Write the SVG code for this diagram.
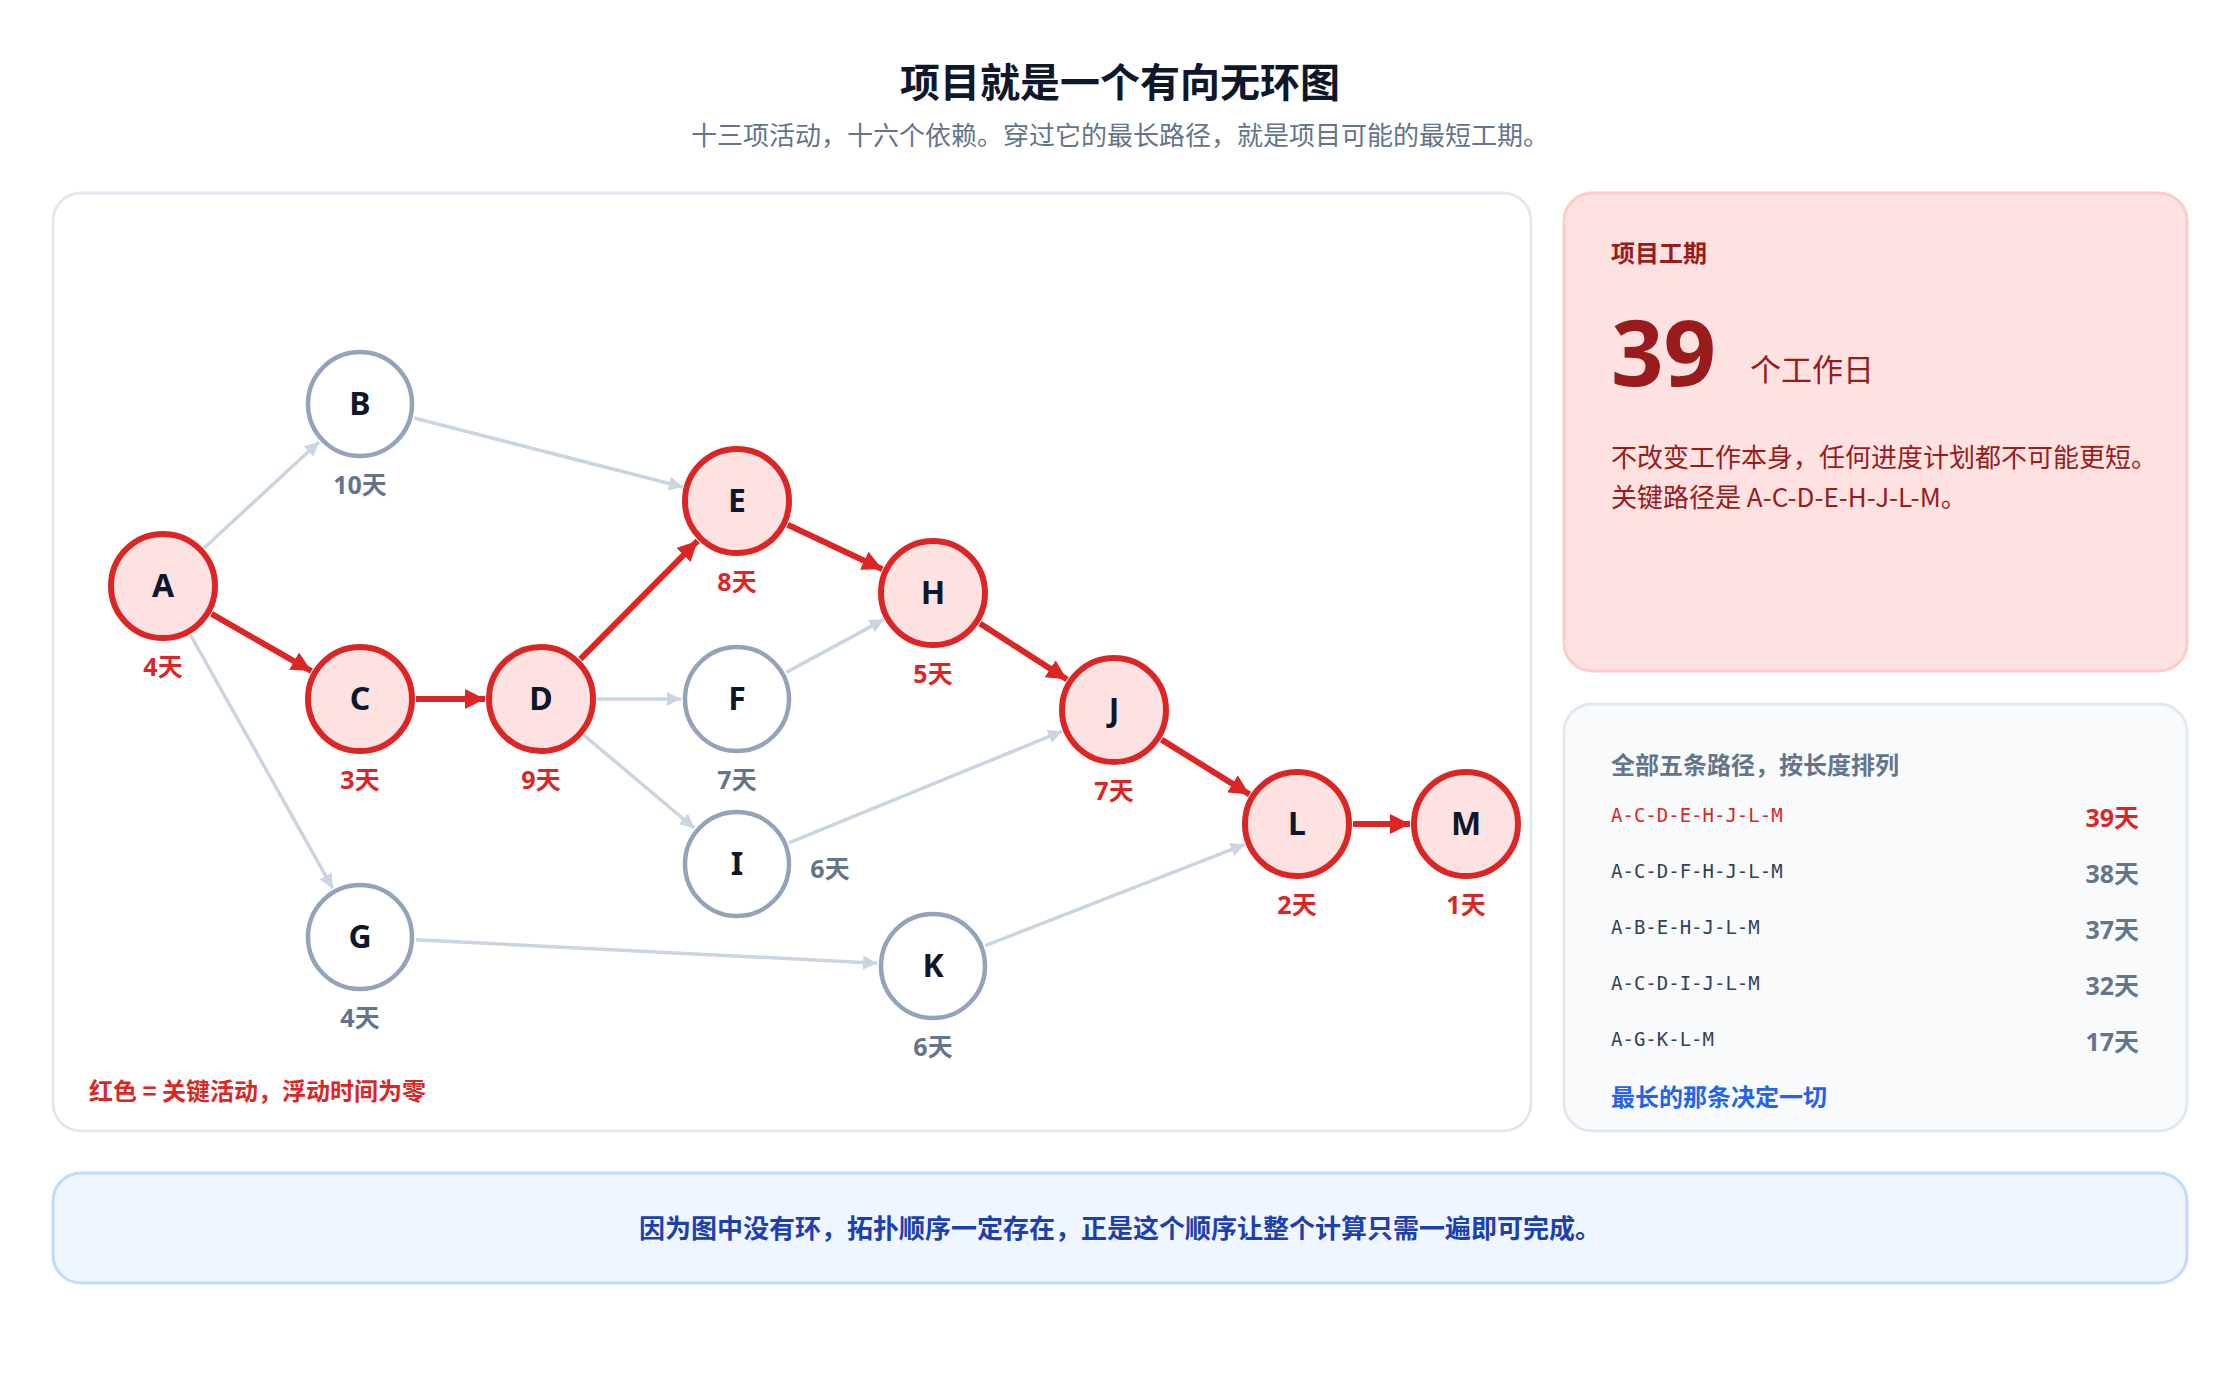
<svg xmlns="http://www.w3.org/2000/svg" width="2240" height="1400" viewBox="0 0 2240 1400">
<style>
text{font-family:"Noto Sans","Noto Sans CJK SC",sans-serif}
.cjk{font-family:"Noto Sans CJK SC","Noto Sans",sans-serif}
.g{stroke:#cbd5e1;stroke-width:3.5;fill:none}
.r{stroke:#dc2626;stroke-width:6;fill:none}
.nc{fill:#fee2e2;stroke:#dc2626;stroke-width:6}
.nn{fill:#ffffff;stroke:#94a3b8;stroke-width:4.5}
.nl{font-size:32px;font-weight:700;fill:#0f172a;text-anchor:middle}
.dc{font-size:25px;font-weight:700;fill:#dc2626;text-anchor:middle}
.dn{font-size:25px;font-weight:700;fill:#64748b;text-anchor:middle}
.mono{font-family:"DejaVu Sans Mono","Liberation Mono",monospace;font-size:19px;fill:#334155}
.days{font-size:25px;font-weight:700;fill:#64748b;text-anchor:end}
</style>
<defs>
<marker id="ag" viewBox="0 0 10 10" refX="10" refY="5" markerWidth="14" markerHeight="14" markerUnits="userSpaceOnUse" orient="auto"><path d="M0,0L10,5L0,10z" fill="#cbd5e1"/></marker>
<marker id="ar" viewBox="0 0 10 10" refX="10" refY="5" markerWidth="20" markerHeight="20" markerUnits="userSpaceOnUse" orient="auto"><path d="M0,0L10,5L0,10z" fill="#dc2626"/></marker>
</defs>
<rect width="2240" height="1400" fill="#ffffff"/>
<text x="1120" y="97" class="cjk" font-size="40" font-weight="700" fill="#0f172a" text-anchor="middle">项目就是一个有向无环图</text>
<text x="1120" y="145" class="cjk" font-size="26" fill="#64748b" text-anchor="middle">十三项活动，十六个依赖。穿过它的最长路径，就是项目可能的最短工期。</text>
<rect x="53" y="193" width="1478" height="938" rx="28" fill="#ffffff" stroke="#e2e8f0" stroke-width="3"/>
<rect x="1564" y="193" width="623" height="478" rx="28" fill="#fee2e2" stroke="#fecaca" stroke-width="3"/>
<rect x="1564" y="704" width="623" height="427" rx="28" fill="#f8fafc" stroke="#e2e8f0" stroke-width="3"/>
<rect x="53" y="1173" width="2134" height="110" rx="28" fill="#eff6ff" stroke="#bfdbfe" stroke-width="3"/>
<text x="1120" y="1238" class="cjk" font-size="26" font-weight="700" fill="#1e40af" text-anchor="middle">因为图中没有环，拓扑顺序一定存在，正是这个顺序让整个计算只需一遍即可完成。</text>
<g id="connectors">
<path class="g" marker-end="url(#ag)" d="M204.1,548L318.9,442"/>
<path class="r" marker-end="url(#ar)" d="M211.6,613.9L311.4,671.1"/>
<path class="g" marker-end="url(#ag)" d="M190.4,634.8L332.6,888.2"/>
<path class="g" marker-end="url(#ag)" d="M414.2,418L682.8,487"/>
<path class="r" marker-end="url(#ar)" d="M416,699L485,699"/>
<path class="r" marker-end="url(#ar)" d="M580.4,659.2L697.6,540.8"/>
<path class="g" marker-end="url(#ag)" d="M597,699L681,699"/>
<path class="g" marker-end="url(#ag)" d="M583.8,735.1L694.2,828"/>
<path class="r" marker-end="url(#ar)" d="M787.7,524.8L882.3,569.2"/>
<path class="g" marker-end="url(#ag)" d="M786.3,672.4L883.7,619.6"/>
<path class="r" marker-end="url(#ar)" d="M980,623.4L1067,679.6"/>
<path class="g" marker-end="url(#ag)" d="M788.8,842.8L1062.2,731.2"/>
<path class="r" marker-end="url(#ar)" d="M1161.5,739.6L1249.5,794.4"/>
<path class="g" marker-end="url(#ag)" d="M415.9,939.8L877.1,963.2"/>
<path class="g" marker-end="url(#ag)" d="M985.2,945.6L1244.8,844.4"/>
<path class="r" marker-end="url(#ar)" d="M1353,824L1410,824"/>
</g>
<g id="A"><circle cx="163" cy="586" r="52" class="nc"/><text x="163" y="597" class="nl">A</text><text x="163" y="676" class="dc">4天</text></g>
<g id="B"><circle cx="360" cy="404" r="52" class="nn"/><text x="360" y="415" class="nl">B</text><text x="360" y="494" class="dn">10天</text></g>
<g id="C"><circle cx="360" cy="699" r="52" class="nc"/><text x="360" y="710" class="nl">C</text><text x="360" y="789" class="dc">3天</text></g>
<g id="D"><circle cx="541" cy="699" r="52" class="nc"/><text x="541" y="710" class="nl">D</text><text x="541" y="789" class="dc">9天</text></g>
<g id="E"><circle cx="737" cy="501" r="52" class="nc"/><text x="737" y="512" class="nl">E</text><text x="737" y="591" class="dc">8天</text></g>
<g id="F"><circle cx="737" cy="699" r="52" class="nn"/><text x="737" y="710" class="nl">F</text><text x="737" y="789" class="dn">7天</text></g>
<g id="H"><circle cx="933" cy="593" r="52" class="nc"/><text x="933" y="604" class="nl">H</text><text x="933" y="683" class="dc">5天</text></g>
<g id="I"><circle cx="737" cy="864" r="52" class="nn"/><text x="737" y="875" class="nl">I</text><text x="830" y="878" class="dn">6天</text></g>
<g id="G"><circle cx="360" cy="937" r="52" class="nn"/><text x="360" y="948" class="nl">G</text><text x="360" y="1027" class="dn">4天</text></g>
<g id="K"><circle cx="933" cy="966" r="52" class="nn"/><text x="933" y="977" class="nl">K</text><text x="933" y="1056" class="dn">6天</text></g>
<g id="J"><circle cx="1114" cy="710" r="52" class="nc"/><text x="1114" y="721" class="nl">J</text><text x="1114" y="800" class="dc">7天</text></g>
<g id="L"><circle cx="1297" cy="824" r="52" class="nc"/><text x="1297" y="835" class="nl">L</text><text x="1297" y="914" class="dc">2天</text></g>
<g id="M"><circle cx="1466" cy="824" r="52" class="nc"/><text x="1466" y="835" class="nl">M</text><text x="1466" y="914" class="dc">1天</text></g>
<text x="89" y="1100" class="cjk" font-size="24" font-weight="700" fill="#dc2626">红色 = 关键活动，浮动时间为零</text>
<g id="summary">
<text x="1611" y="262" class="cjk" font-size="24" font-weight="700" fill="#991b1b">项目工期</text>
<text x="1611" y="386" font-size="92" font-weight="700" fill="#991b1b">39</text>
<text x="1750" y="381" class="cjk" font-size="31" fill="#991b1b">个工作日</text>
<text x="1611" y="467" class="cjk" font-size="26" fill="#991b1b">不改变工作本身，任何进度计划都不可能更短。</text>
<text x="1611" y="507" class="cjk" font-size="26" fill="#991b1b">关键路径是 A-C-D-E-H-J-L-M。</text>
</g>
<g id="paths">
<text x="1611" y="774" class="cjk" font-size="24" font-weight="700" fill="#64748b">全部五条路径，按长度排列</text>
<text x="1611" y="822" class="mono" fill="#dc2626" style="fill:#dc2626">A-C-D-E-H-J-L-M</text>
<text x="2139" y="827" class="days" style="fill:#dc2626">39天</text>
<text x="1611" y="878" class="mono">A-C-D-F-H-J-L-M</text>
<text x="2139" y="883" class="days">38天</text>
<text x="1611" y="934" class="mono">A-B-E-H-J-L-M</text>
<text x="2139" y="939" class="days">37天</text>
<text x="1611" y="990" class="mono">A-C-D-I-J-L-M</text>
<text x="2139" y="995" class="days">32天</text>
<text x="1611" y="1046" class="mono">A-G-K-L-M</text>
<text x="2139" y="1051" class="days">17天</text>
<text x="1611" y="1106" class="cjk" font-size="24" font-weight="700" fill="#2563eb">最长的那条决定一切</text>
</g>
</svg>
